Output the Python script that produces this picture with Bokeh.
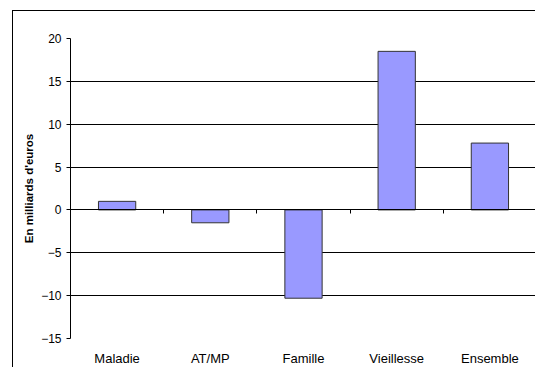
from bokeh.plotting import figure
from bokeh.models import ColumnDataSource, Range1d, LinearAxis, FixedTicker
from bokeh.embed import file_html
from bokeh.resources import INLINE

# Solde par branche, en milliards d'euros
categories = ["Maladie", "AT/MP", "Famille", "Vieillesse", "Ensemble"]
values = [1.0, -1.5, -10.3, 18.5, 7.8]
y_ticks = [-15, -10, -5, 0, 5, 10, 15, 20]

FONT = "Liberation Sans"

# each category occupies one unit slot; bars sit in the middle of their slot
n = len(categories)
centers = [i + 0.5 for i in range(n)]
src = ColumnDataSource(dict(x=centers, val=values, cat=categories))

p = figure(
    width=523, height=357,
    margin=(10, 0, 0, 12),
    x_range=Range1d(0, n),
    y_range=Range1d(-15, 20),
    output_backend="svg", toolbar_location=None,
    min_border_left=57, min_border_right=0,
    min_border_top=27, min_border_bottom=29,
    x_axis_location=None,
)
# frame around the whole chart area
p.styles = {"border-left": "1px solid black", "border-top": "1px solid black",
            "vertical-align": "top"}
p.outline_line_color = None
p.background_fill_color = "white"
p.border_fill_color = "white"

# horizontal gridlines
p.xgrid.grid_line_color = None
p.ygrid.ticker = FixedTicker(ticks=y_ticks)
p.ygrid.grid_line_color = "#000000"
p.ygrid.grid_line_width = 1

# bars
p.vbar(x="x", top="val", bottom=0, width=0.4, source=src,
       fill_color="#9999FF", line_color="#333333", line_width=1)

# value axis
ya = p.yaxis[0]
ya.ticker = FixedTicker(ticks=y_ticks)
ya.axis_label = "En milliards d'euros"
ya.axis_label_text_font = FONT
ya.axis_label_text_font_size = "11.5px"
ya.axis_label_text_font_style = "bold"
ya.axis_label_text_color = "black"
ya.axis_label_standoff = 3
ya.major_label_text_font = FONT
ya.major_label_text_font_size = "12px"
ya.major_label_text_color = "black"
ya.major_label_standoff = 5
ya.major_tick_in = 0
ya.major_tick_out = 4
ya.minor_tick_line_color = None
ya.axis_line_color = "black"
ya.major_tick_line_color = "black"

# category labels along the bottom
xa = LinearAxis(ticker=FixedTicker(ticks=centers),
                major_label_overrides={c: lab for c, lab in zip(centers, categories)})
xa.axis_line_color = None
xa.major_tick_line_color = None
xa.minor_tick_line_color = None
xa.major_label_text_font = FONT
xa.major_label_text_font_size = "13px"
xa.major_label_text_color = "black"
xa.major_label_standoff = 6
p.add_layout(xa, "below")

# horizontal axis crossing at zero, ticks between categories (pointing down)
za = LinearAxis(fixed_location=0,
                ticker=FixedTicker(ticks=list(range(n + 1))))
za.major_label_text_font_size = "0px"
za.major_label_text_alpha = 0
za.major_label_standoff = 0
za.major_tick_in = 4
za.major_tick_out = 0
za.minor_tick_line_color = None
za.axis_line_color = "black"
za.major_tick_line_color = "black"
p.add_layout(za, "above")

html = file_html(p, INLINE)
# keep the page free of scrollbars
html = html.replace("<body>", '<body style="margin:0; overflow:hidden">', 1)
open("out.html", "w").write(html)
